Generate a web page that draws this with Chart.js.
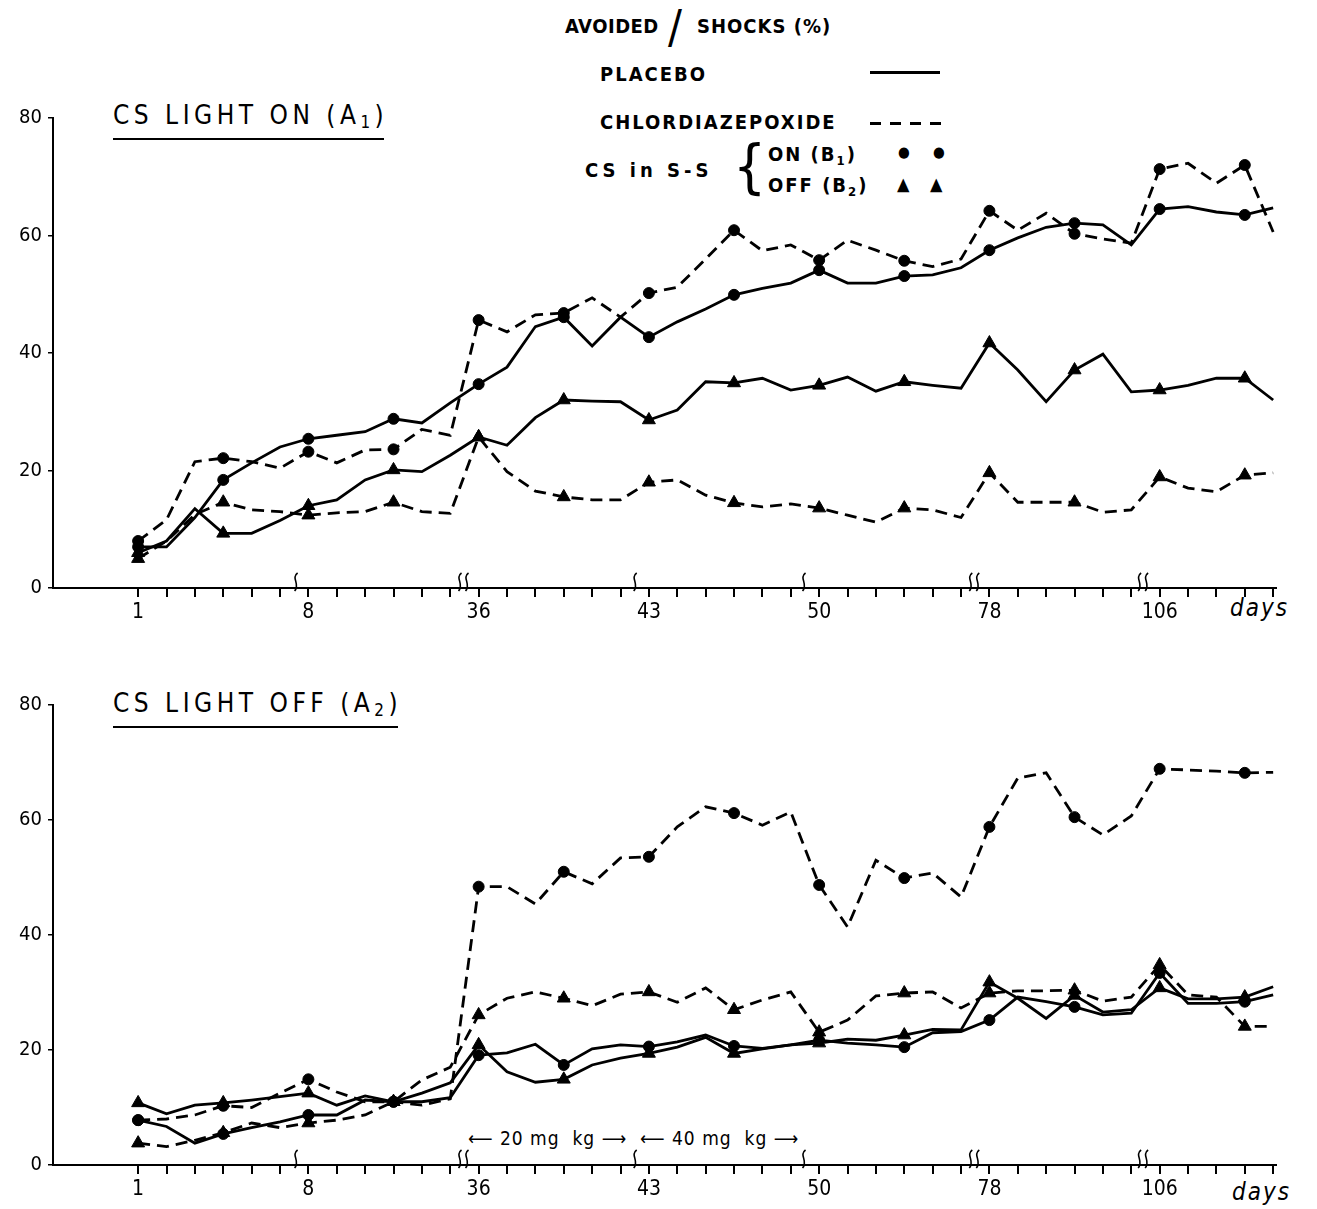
<!DOCTYPE html>
<html>
<head>
<meta charset="utf-8">
<script src="https://cdn.jsdelivr.net/npm/chart.js@4.4.1/dist/chart.umd.min.js"></script>
<style>
  body { margin: 0; background: #fff; width: 1317px; height: 1209px; position: relative; overflow: hidden;
         font-family: "DejaVu Sans Condensed", "DejaVu Sans", sans-serif; color: #000; }
  .t { position: absolute; white-space: nowrap; line-height: 1; }
  .title { font-size: 26px; letter-spacing: 4.5px; }
  .title::after { content: ""; position: absolute; left: 0; right: 4px; bottom: -9px; border-bottom: 2px solid #000; }
  .leg { font-size: 20px; font-weight: bold; letter-spacing: 2px; }
  .days { font-size: 24px; font-style: italic; letter-spacing: 2px; }
  .dash { position: absolute; height: 3px; width: 72px;
          background: repeating-linear-gradient(90deg, #000 0 11px, transparent 11px 20px); }
  sub { font-size: 65%; vertical-align: -4px; }
  canvas { position: absolute; left: 0; }
</style>
</head>
<body>

<!-- legend -->
<div class="t leg" style="left:565px; top:16px; letter-spacing:0.5px;">AVOIDED</div>
<div class="t" style="left:668px; top:4px; font-size:46px; font-weight:300;">/</div>
<div class="t leg" style="left:697px; top:16px; letter-spacing:1px;">SHOCKS (%)</div>
<div class="t leg" style="left:600px; top:64px;">PLACEBO</div>
<div class="t" style="left:870px; top:71px; width:70px; border-top:3px solid #000;"></div>
<div class="t leg" style="left:600px; top:112px;">CHLORDIAZEPOXIDE</div>
<div class="dash" style="left:870px; top:122px;"></div>
<div class="t leg" style="left:585px; top:160px; letter-spacing:4px;">CS in S-S</div>
<div class="t" style="left:733px; top:138px; font-size:58px; font-weight:200;">{</div>
<div class="t leg" style="left:768px; top:144px;">ON (B<sub>1</sub>)</div>
<div class="t" style="left:898px; top:145px; font-size:15px;">●</div>
<div class="t" style="left:933px; top:145px; font-size:15px;">●</div>
<div class="t leg" style="left:768px; top:175px;">OFF (B<sub>2</sub>)</div>
<div class="t" style="left:897px; top:175px; font-size:18px;">▲</div>
<div class="t" style="left:930px; top:175px; font-size:18px;">▲</div>

<div class="t title" style="left:113px; top:102px;">CS LIGHT ON (A<sub>1</sub>)</div>
<div class="t title" style="left:113px; top:690px;">CS LIGHT OFF (A<sub>2</sub>)</div>

<div class="t days" style="left:1230px; top:596px;">days</div>
<div class="t days" style="left:1232px; top:1180px;">days</div>
<div class="t" style="left:468px; top:1129px; font-size:19px; letter-spacing:1px;">⟵ 20 mg&nbsp;&nbsp;kg ⟶&nbsp;&nbsp;⟵ 40 mg&nbsp;&nbsp;kg ⟶</div>

<canvas id="panelOn" width="1317" height="540" style="top:100px"></canvas>
<canvas id="panelOff" width="1317" height="529" style="top:680px"></canvas>

<script>
// ── Session axis: one tick per session, labels on first day of each block ──
const SESSION_LABELS = ["1", "", "", "", "", "", "8", "", "", "", "", "", "36", "", "", "", "", "",
  "43", "", "", "", "", "", "50", "", "", "", "", "", "78", "", "", "", "", "",
  "106", "", "", "", ""];
const Y_TICKS = [0, 20, 40, 60, 80];
// axis breaks: [session position, number of strokes]
const BREAKS = [[5.55, 1], [11.45, 2], [17.5, 1], [23.45, 1], [29.45, 2], [35.4, 2]];

// ── CS light ON (A1) ──
const onPlaceboB1 = [7, 7, 12, 18.4, 21.3, 24, 25.4, 26, 26.6, 28.8, 28.1, 31.5, 34.7, 37.6, 44.5,
  46.1, 41.2, 46.1, 42.7, 45.3, 47.5, 49.9, 51, 51.9, 54.1, 51.9, 51.9, 53.1, 53.3, 54.5,
  57.5, 59.6, 61.4, 62.1, 61.8, 58.4, 64.5, 64.9, 64, 63.5, 64.7];
const onPlaceboB2 = [6, 8, 13.5, 9.3, 9.3, 11.5, 14, 15, 18.4, 20.1, 19.8, 22.6, 25.7, 24.3, 29,
  32, 31.8, 31.7, 28.6, 30.3, 35.1, 34.9, 35.7, 33.7, 34.5, 35.9, 33.5, 35.1, 34.5, 34,
  41.7, 37.1, 31.7, 37.1, 39.8, 33.4, 33.7, 34.5, 35.7, 35.7, 32];
const onDrugB1 = [8, 11.6, 21.5, 22.1, 21.5, 20.4, 23.2, 21.3, 23.5, 23.6, 27, 26, 45.6, 43.6, 46.5,
  46.8, 49.4, 46.1, 50.2, 51.2, 56, 60.9, 57.4, 58.4, 55.8, 59.2, 57.5, 55.7, 54.7, 56,
  64.2, 60.9, 63.8, 60.3, 59.4, 58.7, 71.3, 72.3, 68.9, 72, 60.6];
const onDrugB2 = [5, 8, 12.5, 14.6, 13.3, 13, 12.4, 12.8, 13, 14.6, 13, 12.7, 25.7, 19.8, 16.5,
  15.5, 15, 15, 18, 18.4, 15.8, 14.5, 13.8, 14.3, 13.6, 12.4, 11.2, 13.6, 13.3, 12,
  19.6, 14.6, 14.6, 14.6, 12.9, 13.3, 18.9, 17, 16.4, 19.2, 19.6];

// ── CS light OFF (A2) ──
const offPlaceboB1 = [7.8, 6.7, 3.8, 5.4, 6.5, 7.5, 8.7, 8.7, 11.3, 11, 11, 11.7, 19.1, 19.5, 21,
  17.4, 20.2, 20.9, 20.6, 21.4, 22.6, 20.7, 20.3, 20.9, 21.7, 21.2, 20.9, 20.5, 23, 23.2,
  25.2, 29.2, 28.4, 27.5, 26.1, 26.4, 33.4, 28.1, 28.1, 28.4, 29.6];
const offPlaceboB2 = [10.8, 8.9, 10.4, 10.8, 11.3, 11.9, 12.5, 10.4, 12, 11, 12.5, 14.3, 20.9, 16.2, 14.4,
  14.9, 17.4, 18.6, 19.4, 20.5, 22.2, 19.4, 20.2, 20.9, 21.2, 21.9, 21.7, 22.6, 23.6, 23.5,
  31.8, 29, 25.5, 29.5, 26.6, 27, 30.8, 28.9, 28.9, 29.2, 31];
const offDrugB1 = [7.8, 8, 8.7, 10.3, 10, 12.5, 14.9, 12.7, 11, 11, 10.4, 11.5, 48.4, 48.4, 45.4,
  51, 48.9, 53.4, 53.6, 58.8, 62.3, 61.2, 59.1, 61.4, 48.7, 41.4, 53, 49.9, 50.8, 46.6,
  58.8, 67.3, 68.2, 60.5, 57.4, 60.7, 68.9, 68.7, 68.5, 68.2, 68.3];
const offDrugB2 = [3.8, 3.2, 4.3, 5.6, 7.3, 6.5, 7.3, 7.8, 8.7, 11, 14.8, 17, 26.1, 29, 30.1,
  29, 27.7, 29.7, 30.1, 28.3, 30.8, 27, 28.7, 30.1, 23.1, 25.2, 29.4, 29.9, 30.1, 27.3,
  29.9, 30.3, 30.3, 30.4, 28.5, 29.2, 34.8, 29.6, 29.2, 24.1, 24.1];

const FONT = '"DejaVu Sans Condensed", "DejaVu Sans", sans-serif';

// ── Axis break squiggles on the time axis ──
const breakPlugin = {
  id: "breaks",
  afterDraw(chart) {
    const { ctx, scales: { x, y } } = chart;
    const y0 = y.getPixelForValue(0);
    ctx.save();
    ctx.strokeStyle = "#000";
    ctx.lineWidth = 1.6;
    BREAKS.forEach(([at, n]) => {
      for (let k = 0; k < n; k++) {
        const px = x.getPixelForValue(at) + k * 7 - (n - 1) * 3.5;
        ctx.beginPath();
        ctx.moveTo(px + 2, y0 - 15);
        ctx.bezierCurveTo(px - 5, y0 - 10, px + 5, y0 - 4, px - 1, y0 + 3);
        ctx.stroke();
      }
    });
    ctx.restore();
  },
};

function series(values, dashed, tri) {
  return {
    data: values.map((v, i) => ({ x: i, y: v })),
    borderColor: "#000",
    borderWidth: 2.8,
    borderDash: dashed ? [12, 7] : [],
    pointStyle: tri ? "triangle" : "circle",
    pointRadius: c => (c.dataIndex % 3 === 0 ? (tri ? 7.5 : 5.5) : 0),
    pointBackgroundColor: "#000",
    pointBorderColor: "#000",
    pointBorderWidth: 1,
    tension: 0,
    fill: false,
  };
}

function makePanel(canvasId, sets, padTop, axisH) {
  const ctx = document.getElementById(canvasId).getContext("2d");
  return new Chart(ctx, {
    type: "line",
    data: {
      datasets: [
        series(sets[0], false, false),
        series(sets[1], false, true),
        series(sets[2], true, false),
        series(sets[3], true, true),
      ],
    },
    options: {
      responsive: false,
      animation: false,
      layout: { padding: { top: padTop, right: 41, left: 0, bottom: 0 } },
      plugins: { legend: { display: false }, tooltip: { enabled: false } },
      scales: {
        x: {
          type: "linear", min: -3, max: 40.1,
          afterBuildTicks: s => { s.ticks = SESSION_LABELS.map((_, i) => ({ value: i })); },
          afterFit: s => { s.height = axisH; },
          ticks: { autoSkip: false, maxRotation: 0, padding: 3, color: "#000",
                   font: { family: FONT, size: 21 }, callback: v => SESSION_LABELS[v] ?? "" },
          grid: { drawOnChartArea: false, tickLength: 9, color: "#000", lineWidth: 2 },
          border: { color: "#000", width: 2 },
        },
        y: {
          min: 0, max: 80,
          afterBuildTicks: s => { s.ticks = Y_TICKS.map(v => ({ value: v })); },
          afterFit: s => { s.width = 53; },
          ticks: { padding: 6, color: "#000", font: { family: FONT, size: 20 } },
          grid: { drawOnChartArea: false, tickLength: 5, color: "#000", lineWidth: 1.5 },
          border: { color: "#000", width: 2 },
        },
      },
    },
    plugins: [breakPlugin],
  });
}

makePanel("panelOn", [onPlaceboB1, onPlaceboB2, onDrugB1, onDrugB2], 18, 52);
makePanel("panelOff", [offPlaceboB1, offPlaceboB2, offDrugB1, offDrugB2], 25, 44);
</script>
</body>
</html>
